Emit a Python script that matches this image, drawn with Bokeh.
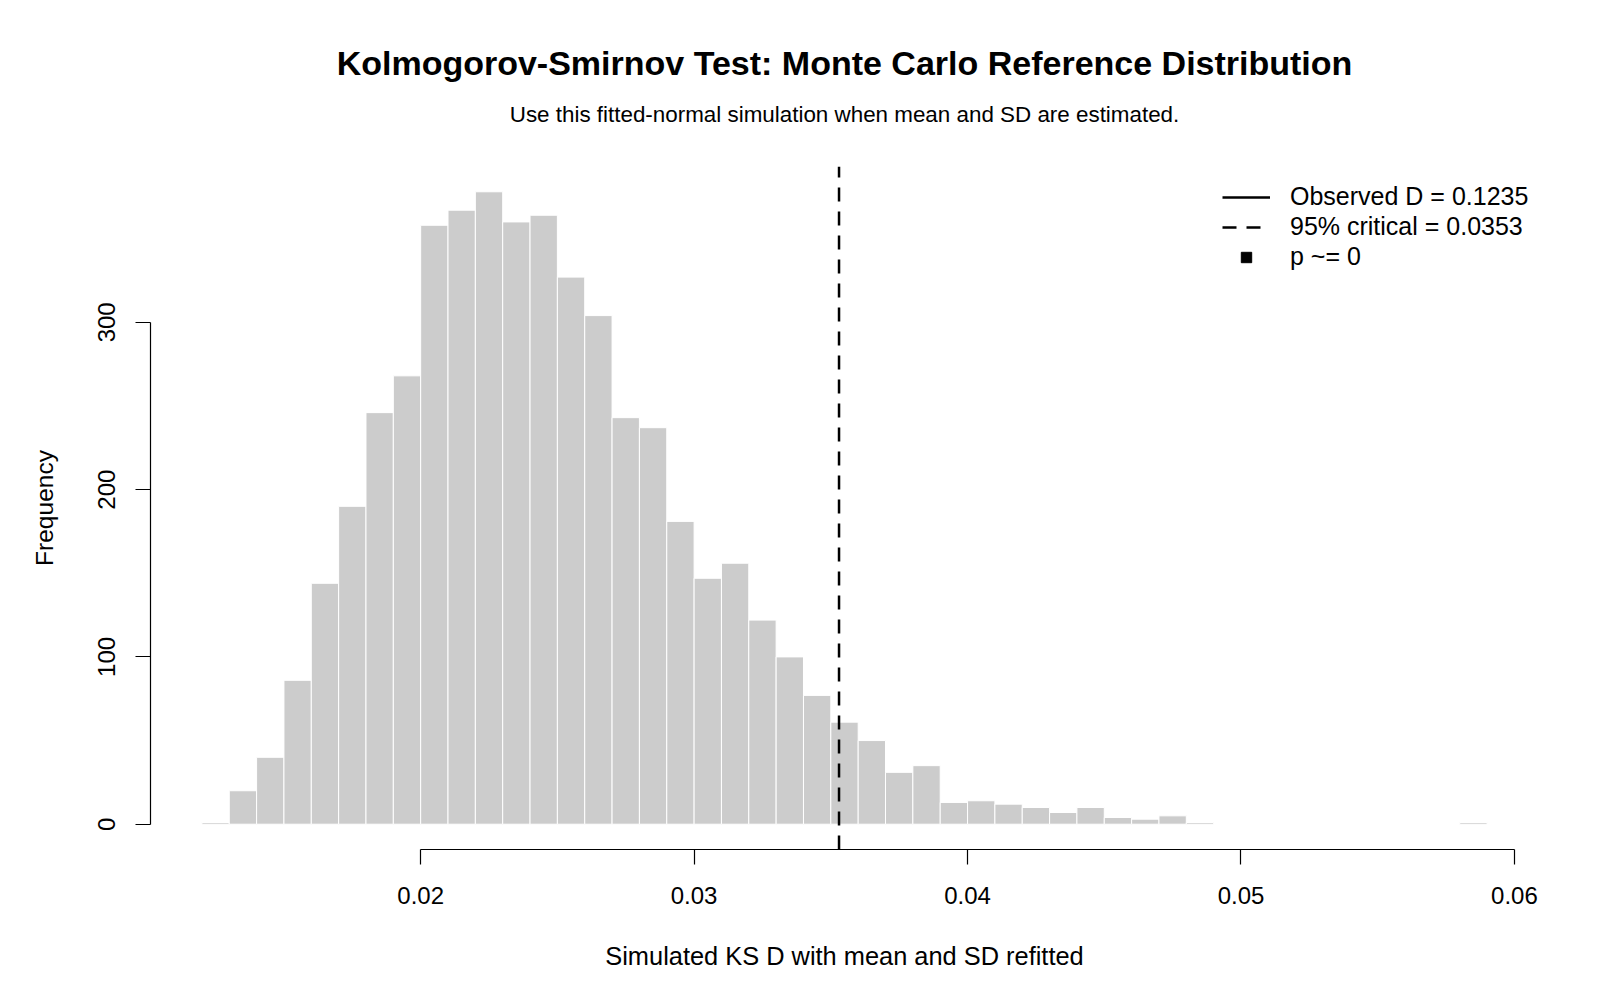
import numpy as np
from bokeh.plotting import figure
from bokeh.models import (Range1d, FixedTicker, Legend, LegendItem, Title,
                          ColumnDataSource)
from bokeh.embed import file_html
from bokeh.resources import INLINE

# Simulated KS D statistics, binned at width 0.001 starting from 0.012
bin_start = 0.012
bin_width = 0.001
counts = [1, 20, 40, 86, 144, 190, 246, 268,
          358, 367, 378, 360, 364, 327, 304, 243, 237, 181,
          147, 156, 122, 100, 77, 61, 50, 31, 35, 13,
          14, 12, 10, 7, 10, 4, 3, 5, 1, 0,
          0, 0, 0, 0, 0, 0, 0, 0, 1]

observed_d = 0.1235
critical_95 = 0.0353

x_ticks = [0.02, 0.03, 0.04, 0.05, 0.06]
x_tick_labels = ["0.02", "0.03", "0.04", "0.05", "0.06"]
y_ticks = [0, 100, 200, 300]
y_tick_labels = ["0", "100", "200", "300"]

title_text = "Kolmogorov-Smirnov Test: Monte Carlo Reference Distribution"
subtitle_text = "Use this fitted-normal simulation when mean and SD are estimated."

FONT = "Liberation Sans"

n_bins = len(counts)
edges = np.round(bin_start + bin_width * np.arange(n_bins + 1), 4)
src = ColumnDataSource(dict(left=edges[:-1], right=edges[1:],
                            top=counts, bottom=[0] * n_bins))

# axis limits padded by 4% on each side
x_lo, x_hi = edges[0], edges[-1]
x_pad = 0.04 * (x_hi - x_lo)
y_top = max(counts)
y_pad = 0.04 * y_top
y_lo_lim, y_hi_lim = -y_pad, y_top + y_pad

p = figure(width=1600, height=1000, output_backend="svg", toolbar_location=None,
           x_range=Range1d(x_lo - x_pad, x_hi + x_pad),
           y_range=Range1d(y_lo_lim, y_hi_lim),
           min_border_left=150, min_border_right=62,
           min_border_top=166, min_border_bottom=151)
p.background_fill_color = "white"
p.border_fill_color = "white"
p.outline_line_color = None
p.grid.visible = False

# histogram bars
p.quad(left="left", right="right", top="top", bottom="bottom", source=src,
       fill_color="#CCCCCC", line_color="white", line_width=1)

# reference lines spanning the full vertical range
r_obs = p.line(x=[observed_d, observed_d], y=[y_lo_lim, y_hi_lim],
               line_color="black", line_width=2.5)
r_crit = p.line(x=[critical_95, critical_95], y=[y_lo_lim, y_hi_lim],
                line_color="black", line_width=2.5, line_dash="14 10")
r_p = p.scatter(x=[np.nan], y=[np.nan], marker="square", size=10,
                fill_color="black", line_color="black")

legend = Legend(items=[
    LegendItem(label=f"Observed D = {observed_d:.4f}", renderers=[r_obs]),
    LegendItem(label=f"95% critical = {critical_95:.4f}", renderers=[r_crit]),
    LegendItem(label="p ~= 0", renderers=[r_p]),
], location=(1072, 578), border_line_color=None, background_fill_alpha=0,
    padding=0, margin=0, label_text_font=FONT, label_text_font_size="25px",
    label_text_color="black",
    glyph_width=48, glyph_height=26, label_height=26, label_standoff=20,
    spacing=1)
p.add_layout(legend)

# axes
xa = p.xaxis[0]
xa.ticker = FixedTicker(ticks=x_ticks)
xa.major_label_overrides = dict(zip(x_ticks, x_tick_labels))
xa.bounds = (x_ticks[0], x_ticks[-1])
xa.axis_label = "Simulated KS D with mean and SD refitted"
xa.axis_label_standoff = 35
xa.major_label_standoff = 22

ya = p.yaxis[0]
ya.ticker = FixedTicker(ticks=y_ticks)
ya.major_label_overrides = dict(zip(y_ticks, y_tick_labels))
ya.bounds = (y_ticks[0], y_ticks[-1])
ya.axis_label = "Frequency"
ya.major_label_orientation = "vertical"
ya.axis_label_standoff = 38
ya.major_label_standoff = 20

for ax in (xa, ya):
    ax.axis_line_color = "black"
    ax.axis_line_width = 1.2
    ax.major_tick_line_color = "black"
    ax.major_tick_line_width = 1.2
    ax.major_tick_out = 15
    ax.major_tick_in = 0
    ax.minor_tick_line_color = None
    ax.major_label_text_font = FONT
    ax.major_label_text_font_size = "24px"
    ax.major_label_text_color = "black"
    ax.axis_label_text_font = FONT
    ax.axis_label_text_font_style = "normal"
    ax.axis_label_text_color = "black"
xa.axis_label_text_font_size = "25.4px"
ya.axis_label_text_font_size = "24.5px"

# main title (outer) and subtitle (next to the frame)
p.title.text = title_text
p.title.align = "center"
p.title.text_font = FONT
p.title.text_font_size = "34px"
p.title.text_font_style = "bold"
p.title.text_color = "black"
p.title.standoff = -42
p.add_layout(Title(text=subtitle_text, align="center", text_font=FONT,
                   text_font_size="22.4px", text_font_style="normal",
                   text_color="black", standoff=79), "above")

open("out.html", "w").write(file_html(p, INLINE))
